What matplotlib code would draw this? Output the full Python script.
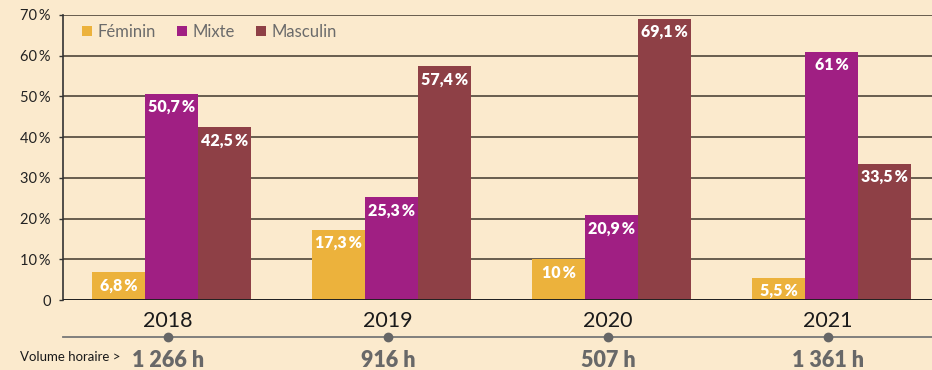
import numpy as np
import matplotlib.pyplot as plt

annees = ['2018', '2019', '2020', '2021']
feminin = [6.8, 17.3, 10, 5.5]
mixte = [50.7, 25.3, 20.9, 61]
masculin = [42.5, 57.4, 69.1, 33.5]
volumes = ['1 266 h', '916 h', '507 h', '1 361 h']
series = ['Féminin', 'Mixte', 'Masculin']
couleurs = ['#ECB23C', '#A01F83', '#8E4046']
yticks = [0, 10, 20, 30, 40, 50, 60, 70]

fond = '#FBEACD'
plt.rcParams['font.family'] = ['Lato', 'DejaVu Sans']

fig = plt.figure(figsize=(9.32, 3.7), dpi=100, facecolor=fond)
ax = fig.add_axes([63 / 932, 1 - 300 / 370, 1 - 63 / 932, 285 / 370])
ax.set_facecolor(fond)

x = np.arange(len(annees))
w = 0.24
for k, (vals, nom, c) in enumerate(zip([feminin, mixte, masculin], series, couleurs)):
    pos = x + (k - 1) * w
    ax.bar(pos, vals, w, color=c, label=nom, zorder=3)
    for p, v in zip(pos, vals):
        txt = (f'{v:g}'.replace('.', ',')) + '\u2009%'
        ax.text(p, v - 1.3, txt, ha='center', va='top', color='white',
                fontsize=11.5, fontweight='heavy', zorder=4)

ax.set_xlim(-0.493, 3.457)
ax.set_ylim(0, 70)
ax.set_yticks(yticks)
ax.set_yticklabels(['0'] + [f'{t}\u2009%' for t in yticks[1:]], fontsize=10.5,
                   color='#222222')
ax.tick_params(axis='y', length=3, width=1, color='#333333', pad=6)
ax.set_xticks([])
ax.grid(axis='y', color='#40372c', linewidth=1.1, zorder=1)
for s in ['top', 'right', 'bottom']:
    ax.spines[s].set_visible(False)
ax.spines['left'].set_color('#333333')
ax.spines['left'].set_linewidth(1.2)
ax.axhline(0, color='#222222', linewidth=1.4, zorder=5)

# années et volume horaire sous l'axe
for xi, a, vol in zip(x, annees, volumes):
    ax.text(xi - 0.015, -2.6, a, ha='center', va='top', fontsize=15.5,
            fontweight='normal', color='#1a1a1a', clip_on=False)
    ax.text(xi - 0.015, -12.2, vol, ha='center', va='top', fontsize=15.5,
            fontweight='heavy', color='#686868', clip_on=False)
ax.plot([-0.493, 3.457], [-9.2, -9.2], color='#777777', linewidth=1.3,
        clip_on=False)
ax.plot(x - 0.015, [-9.2] * 4, 'o', color='#666666', markersize=6,
        clip_on=False)
fig.text(20 / 932, 1 - 357 / 370, 'Volume horaire >', fontsize=9.5,
         color='#1a1a1a', va='center')

leg = ax.legend(loc='upper left', bbox_to_anchor=(0.005, 1.02), ncol=3,
                frameon=False, fontsize=12, handlelength=0.55,
                handleheight=0.55, handletextpad=0.35, columnspacing=1.3)
for t in leg.get_texts():
    t.set_color('#6b6b6b')

fig.savefig('out.png', dpi=100, facecolor=fond)
